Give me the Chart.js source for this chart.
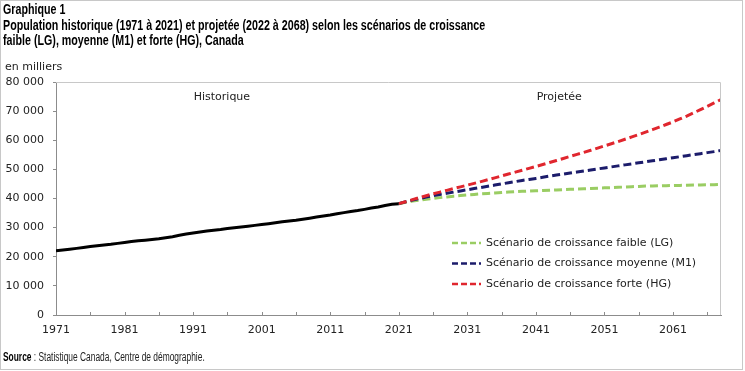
<!DOCTYPE html>
<html>
<head>
<meta charset="utf-8">
<script src="https://cdn.jsdelivr.net/npm/chart.js@4"></script>
<style>
html, body { margin: 0; padding: 0; background: #fff; }
#wrap { position: relative; width: 745px; height: 371px; overflow: hidden; }
#frame { position: absolute; left: 0; top: 0; width: 741px; height: 368px; border: 1px solid #c8c8c8; }
#title { position: absolute; left: 3px; top: 2px; font: bold 14px "Liberation Sans", sans-serif; line-height: 15.5px; color: #000; white-space: nowrap; transform: scaleX(0.764); transform-origin: 0 0; }
#unit { position: absolute; left: 5px; top: 60px; font: 11px "DejaVu Sans", sans-serif; color: #222; }
#source { position: absolute; left: 3px; top: 350px; font: 12px "Liberation Sans", sans-serif; color: #222; white-space: nowrap; transform: scaleX(0.70); transform-origin: 0 0; }
#source b { color: #000; }
#box { position: absolute; left: 0; top: 0; width: 745px; height: 371px; }
</style>
</head>
<body>
<div id="wrap">
  <div id="frame"></div>
  <div id="box"><canvas id="myChart"></canvas></div>
  <div id="title">Graphique 1<br>Population historique (1971 à 2021) et projetée (2022 à 2068) selon les scénarios de croissance<br>faible (LG), moyenne (M1) et forte (HG), Canada</div>
  <div id="unit">en milliers</div>
  <div id="source"><b>Source</b> : Statistique Canada, Centre de démographie.</div>
</div>
<script>
const firstYear = 1971;   // historique 1971 à 2021
const projStart = 2021;   // projections raccordées à 2021
const historique = [
  22026, 22285, 22560, 22875, 23209, 23518, 23796, 24036, 24277, 24593,
  24900, 25202, 25456, 25702, 25942, 26204, 26550, 26895, 27379, 27791,
  28171, 28519, 28833, 29111, 29354, 29672, 29987, 30248, 30500, 30770,
  31081, 31362, 31677, 31995, 32312, 32571, 32889, 33245, 33628, 34005,
  34342, 34751, 35155, 35544, 35852, 36264, 36709, 37065, 37601, 38007,
  38226
];
const faible = [38226,
  38700, 39100, 39450, 39750, 40050, 40300, 40550, 40800, 41000,
  41200, 41400, 41600, 41750, 41900, 42050, 42200, 42350, 42450, 42550,
  42650, 42750, 42850, 42950, 43050, 43150, 43250, 43350, 43450, 43550,
  43650, 43750, 43850, 43950, 44050, 44150, 44250, 44300, 44350, 44400,
  44450, 44500, 44550, 44600, 44650, 44700, 44750, 44800];
const moyenne = [38226,
  38900, 39450, 40000, 40500, 40950, 41400, 41800, 42200, 42600,
  43000, 43400, 43800, 44200, 44600, 45000, 45400, 45800, 46200, 46550,
  46900, 47300, 47700, 48050, 48400, 48750, 49100, 49450, 49800, 50150,
  50500, 50850, 51200, 51550, 51900, 52250, 52600, 52950, 53300, 53650,
  54000, 54350, 54700, 55050, 55400, 55750, 56100, 56500];
const forte = [38226,
  38900, 39600, 40300, 40950, 41600, 42200, 42800, 43400, 44000,
  44600, 45200, 45800, 46450, 47100, 47750, 48400, 49050, 49700, 50350,
  51000, 51650, 52350, 53050, 53750, 54450, 55150, 55850, 56550, 57300,
  58050, 58800, 59550, 60350, 61150, 61950, 62800, 63650, 64500, 65400,
  66300, 67300, 68300, 69400, 70500, 71650, 72800, 74000];
const legendLabels = [
  'Scénario de croissance faible (LG)',
  'Scénario de croissance moyenne (M1)',
  'Scénario de croissance forte (HG)'
];
const periodLabels = ['Historique', 'Projetée'];

const toPoints = (start, vals) => vals.map((v, i) => ({ x: start + i, y: v }));
const fmt = v => String(v).replace(/\B(?=(\d{3})+(?!\d))/g, ' ');
const axisGray = '#8c8c8c';
const colors = ['#9acd63', '#1c1c6b', '#e0262e'];

// cadre du graphique, petits traits vers l'intérieur sur l'axe des x, textes et légende
const extras = {
  id: 'extras',
  afterDraw(chart) {
    const c = chart.ctx, a = chart.chartArea, x = chart.scales.x;
    c.save();
    c.strokeStyle = '#c8c8c8';
    c.lineWidth = 1;
    c.beginPath();
    c.moveTo(a.left, a.top + 0.5); c.lineTo(a.right - 0.5, a.top + 0.5); c.lineTo(a.right - 0.5, a.bottom);
    c.stroke();
    c.strokeStyle = axisGray;
    c.beginPath();
    x.ticks.forEach(t => {
      const px = Math.round(x.getPixelForValue(t.value)) + 0.5;
      c.moveTo(px, a.bottom); c.lineTo(px, a.bottom - 3);
    });
    c.stroke();
    c.fillStyle = '#222';
    c.font = '11px "DejaVu Sans"';
    c.textAlign = 'center';
    c.textBaseline = 'middle';
    c.fillText(periodLabels[0], x.getPixelForValue(1995.2), a.top + 15);
    c.fillText(periodLabels[1], x.getPixelForValue(2044.4), a.top + 15);
    c.textAlign = 'left';
    c.lineWidth = 2.5;
    c.setLineDash([6, 3]);
    legendLabels.forEach((lab, i) => {
      const y = 243 + i * 20.5;
      c.strokeStyle = colors[i];
      c.beginPath(); c.moveTo(452, y); c.lineTo(481, y); c.stroke();
      c.fillText(lab, 486, y);
    });
    c.restore();
  }
};

const ctx = document.getElementById('myChart');
const dash = { borderWidth: 3, borderDash: [8, 4], pointRadius: 0, fill: false };
new Chart(ctx, {
  type: 'line',
  data: {
    datasets: [
      { label: 'Historique', data: toPoints(firstYear, historique), borderColor: '#000', borderWidth: 3, pointRadius: 0 },
      { label: legendLabels[2], data: toPoints(projStart, forte), borderColor: colors[2], ...dash },
      { label: legendLabels[1], data: toPoints(projStart, moyenne), borderColor: colors[1], ...dash },
      { label: legendLabels[0], data: toPoints(projStart, faible), borderColor: colors[0], ...dash }
    ]
  },
  options: {
    responsive: true,
    maintainAspectRatio: false,
    animation: false,
    layout: { padding: { left: 0, right: 24, top: 82, bottom: 26 } },
    plugins: { legend: { display: false }, tooltip: { enabled: false } },
    scales: {
      x: {
        type: 'linear', min: 1971, max: 2068,
        afterBuildTicks: s => { const t = []; for (let v = 1971; v <= 2068; v += 5) t.push({ value: v }); s.ticks = t; },
        afterFit: s => { s.height = 30; },
        grid: { display: false, drawTicks: false },
        border: { color: axisGray },
        ticks: {
          autoSkip: false, maxRotation: 0, padding: 9, color: '#222',
          font: { family: 'DejaVu Sans', size: 11 },
          callback: v => ((v - 1971) % 10 === 0 ? String(v) : '')
        }
      },
      y: {
        min: 0, max: 80000,
        afterFit: s => { s.width = 56; },
        grid: { drawOnChartArea: false, tickLength: 3, color: axisGray },
        border: { color: axisGray },
        ticks: { stepSize: 10000, padding: 9, color: '#222', font: { family: 'DejaVu Sans', size: 11 }, callback: v => fmt(v) }
      }
    }
  },
  plugins: [extras]
});
</script>
</body>
</html>
